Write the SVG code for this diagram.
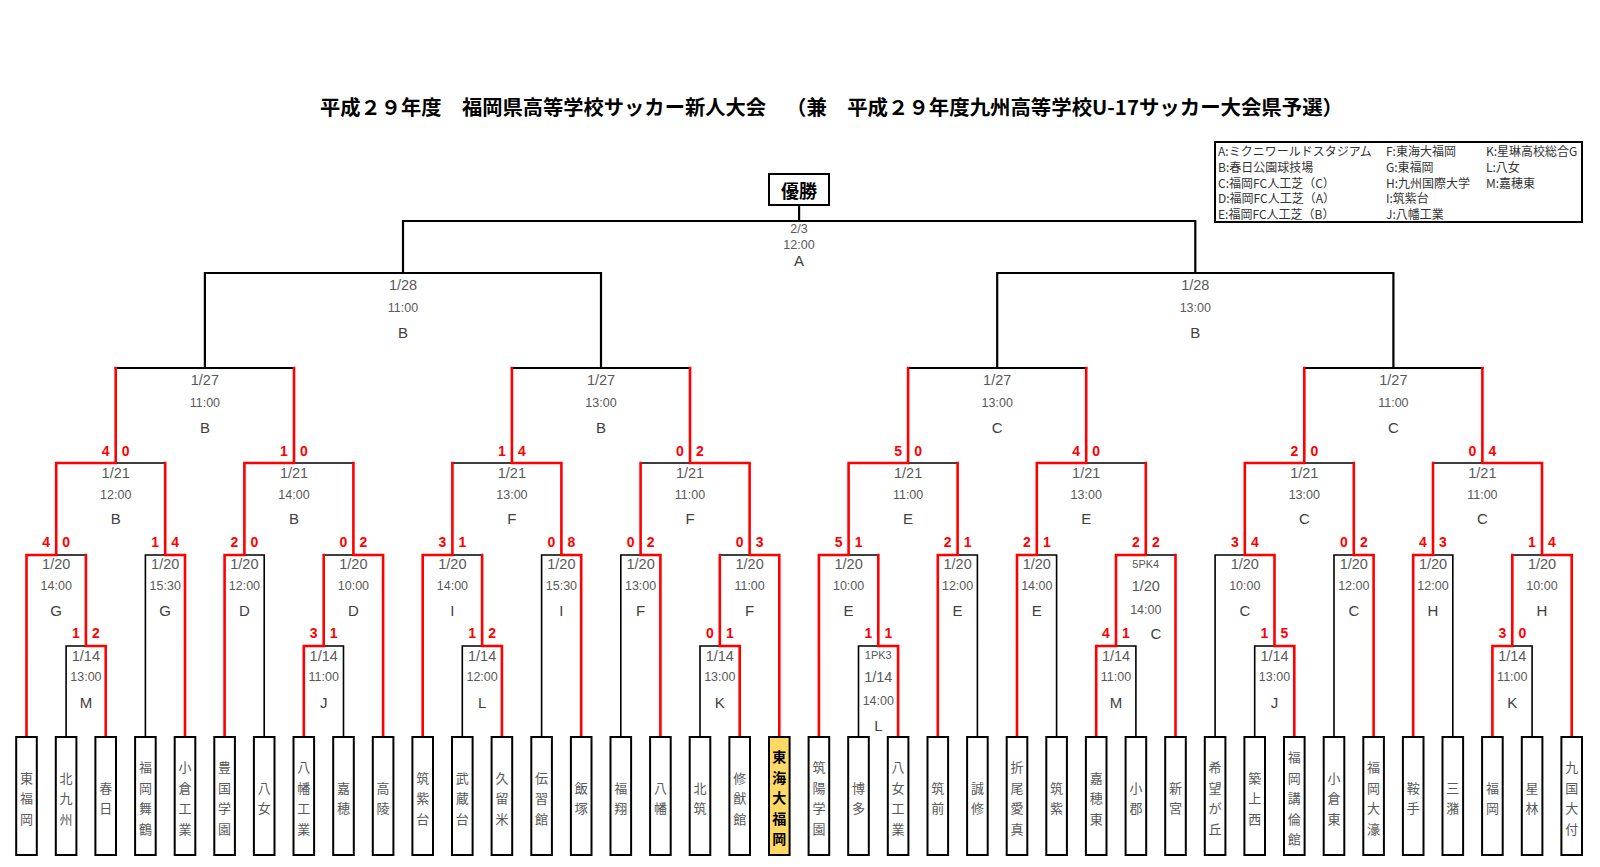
<svg xmlns="http://www.w3.org/2000/svg" width="1600" height="867" viewBox="0 0 1600 867">
<style>
.k{stroke:#000;stroke-width:1.6;fill:none;stroke-linecap:square}
.kt{stroke:#000;stroke-width:2.2;fill:none;stroke-linecap:square}
.r{stroke:#ff0000;stroke-width:2.6;fill:none;stroke-linecap:square}
.box{fill:#fff;stroke:#000;stroke-width:2}
.win{fill:#FFD966;stroke:#000;stroke-width:2}
.tn{font-family:"Noto Sans CJK JP","Noto Sans",sans-serif;font-size:13px;fill:#595959;text-anchor:middle;dominant-baseline:central}
.tw{font-family:"Noto Sans CJK JP","Noto Sans",sans-serif;font-size:14px;font-weight:bold;fill:#000;text-anchor:middle;dominant-baseline:central}
.dt{font-family:"Liberation Sans",Arial,sans-serif;font-size:14.5px;fill:#595959;text-anchor:middle;dominant-baseline:central}
.tm{font-family:"Liberation Sans",Arial,sans-serif;font-size:12.5px;fill:#595959;text-anchor:middle;dominant-baseline:central}
.vn{font-family:"Liberation Sans",Arial,sans-serif;font-size:15px;fill:#404040;text-anchor:middle;dominant-baseline:central}
.pk{font-family:"Liberation Sans",Arial,sans-serif;font-size:11px;fill:#595959;text-anchor:middle;dominant-baseline:central}
.sc{font-family:"Liberation Sans",Arial,sans-serif;font-size:14px;font-weight:bold;fill:#ff0000;text-anchor:middle;dominant-baseline:central}
.ttl{font-family:"Noto Sans CJK JP",sans-serif;font-size:20px;font-weight:bold;fill:#000;dominant-baseline:central}
.lg{font-family:"Noto Sans CJK JP",sans-serif;font-size:12px;fill:#333;dominant-baseline:central}
</style>

<g id="title">
<text class="ttl" x="320" y="106" textLength="446" lengthAdjust="spacingAndGlyphs">平成２９年度　福岡県高等学校サッカー新人大会</text>
<text class="ttl" x="786" y="106" textLength="557" lengthAdjust="spacingAndGlyphs">（兼　平成２９年度九州高等学校U-17サッカー大会県予選）</text>
</g>

<g id="legend">
<rect x="1215" y="142" width="367" height="80" fill="#fff" stroke="#000" stroke-width="2"/>
<text class="lg" x="1218" y="150">A:ミクニワールドスタジアム</text>
<text class="lg" x="1218" y="166">B:春日公園球技場</text>
<text class="lg" x="1218" y="182">C:福岡FC人工芝（C）</text>
<text class="lg" x="1218" y="197.5">D:福岡FC人工芝（A）</text>
<text class="lg" x="1218" y="213">E:福岡FC人工芝（B）</text>
<text class="lg" x="1386" y="150">F:東海大福岡</text>
<text class="lg" x="1386" y="166">G:東福岡</text>
<text class="lg" x="1386" y="182">H:九州国際大学</text>
<text class="lg" x="1386" y="197.5">I:筑紫台</text>
<text class="lg" x="1386" y="213">J:八幡工業</text>
<text class="lg" x="1486" y="150">K:星琳高校総合G</text>
<text class="lg" x="1486" y="166">L:八女</text>
<text class="lg" x="1486" y="182">M:嘉穂東</text>
</g>

<g id="connectors">
<path class="k" d="M66.1 737V646M145.4 737V555M264.2 737V555M343.5 737V646M462.3 737V646M541.6 737V555M620.8 737V555M700 737V646M858.5 737V646M977.4 737V555M1056.6 737V555M1135.9 737V646M1215.1 737V555M1254.7 737V646M1334 737V555M1452.8 737V555M1532.1 737V646
M66.1 646H85.9M323.7 646H343.5M462.3 646H482.1M700 646H719.8M858.5 646H878.3M1116 646H1135.9M1254.7 646H1274.5M1512.3 646H1532.1
M56.2 555H85.9M145.4 555H165.2M244.4 555H264.2M323.7 555H353.4M452.4 555H482.1M541.6 555H561.4M620.8 555H640.6M719.8 555H749.6M848.6 555H878.3M957.6 555H977.4M1036.8 555H1056.6M1145.8 555H1175.5M1215.1 555H1244.8M1334 555H1353.8M1433 555H1452.8M1512.3 555H1542
M115.7 463H165.2M294 463H353.4M452.4 463H511.9M640.6 463H690M908.1 463H957.6M1086.2 463H1145.8M1304.3 463H1353.8M1433 463H1482.4"/>
<path class="kt" d="M115.7 368H294M511.9 368H690M908.1 368H1086.2M1304.3 368H1482.4
M204.9 368V273M601 368V273M997.2 368V273M1393.4 368V273
M204.9 273H601M997.2 273H1393.4
M403 273V221M1195.3 273V221
M403 221H1195.3M799.1 221V205"/>
<path class="r" d="M26.5 737V555M105.7 737V646M185 737V555M224.6 737V555M303.8 737V646M383.1 737V555M422.7 737V555M501.9 737V646M581.2 737V555M660.4 737V555M739.7 737V646M779.3 737V555M818.9 737V555M898.1 737V646M937.8 737V555M1017 737V555M1096.2 737V646M1175.5 737V555M1294.3 737V646M1373.6 737V555M1413.2 737V555M1492.4 737V646M1571.7 737V555
M85.9 646H105.7M303.8 646H323.7M482.1 646H501.9M719.8 646H739.7M878.3 646H898.1M1096.2 646H1116M1274.5 646H1294.3M1492.4 646H1512.3
M85.9 646V555M323.7 646V555M482.1 646V555M719.8 646V555M878.3 646V555M1116 646V555M1274.5 646V555M1512.3 646V555
M26.5 555H56.2M165.2 555H185M224.6 555H244.4M353.4 555H383.1M422.7 555H452.4M561.4 555H581.2M640.6 555H660.4M749.6 555H779.3M818.9 555H848.6M937.8 555H957.6M1017 555H1036.8M1116 555H1145.8M1244.8 555H1274.5M1353.8 555H1373.6M1413.2 555H1433M1542 555H1571.7
M56.2 555V463M165.2 555V463M244.4 555V463M353.4 555V463M452.4 555V463M561.4 555V463M640.6 555V463M749.6 555V463M848.6 555V463M957.6 555V463M1036.8 555V463M1145.8 555V463M1244.8 555V463M1353.8 555V463M1433 555V463M1542 555V463
M56.2 463H115.7M244.4 463H294M511.9 463H561.4M690 463H749.6M848.6 463H908.1M1036.8 463H1086.2M1244.8 463H1304.3M1482.4 463H1542
M115.7 463V368M294 463V368M511.9 463V368M690 463V368M908.1 463V368M1086.2 463V368M1304.3 463V368M1482.4 463V368"/>
</g>

<g id="champion">
<rect x="769" y="174" width="60" height="31" fill="#fff" stroke="#000" stroke-width="2"/>
<text x="799" y="189.5" font-family="Noto Sans CJK JP, sans-serif" font-size="18" font-weight="bold" text-anchor="middle" dominant-baseline="central">優勝</text>
</g>

<g id="final"><text class="tm" x="799" y="229">2/3</text><text class="tm" x="799" y="244.5">12:00</text><text class="vn" x="799" y="260">A</text></g>

<g id="sf-left"><text class="dt" x="403" y="285">1/28</text><text class="tm" x="403" y="308">11:00</text><text class="vn" x="403" y="332">B</text></g>
<g id="sf-right"><text class="dt" x="1195.3" y="285">1/28</text><text class="tm" x="1195.3" y="308">13:00</text><text class="vn" x="1195.3" y="332">B</text></g>

<g id="qf1"><text class="dt" x="204.9" y="380">1/27</text><text class="tm" x="204.9" y="403">11:00</text><text class="vn" x="204.9" y="427">B</text></g>
<g id="qf2"><text class="dt" x="601" y="380">1/27</text><text class="tm" x="601" y="403">13:00</text><text class="vn" x="601" y="427">B</text></g>
<g id="qf3"><text class="dt" x="997.2" y="380">1/27</text><text class="tm" x="997.2" y="403">13:00</text><text class="vn" x="997.2" y="427">C</text></g>
<g id="qf4"><text class="dt" x="1393.4" y="380">1/27</text><text class="tm" x="1393.4" y="403">11:00</text><text class="vn" x="1393.4" y="427">C</text></g>

<g id="r21-1"><text class="sc" x="105.7" y="450.7">4</text><text class="sc" x="125.7" y="450.7">0</text><text class="dt" x="115.7" y="473">1/21</text><text class="tm" x="115.7" y="495">12:00</text><text class="vn" x="115.7" y="518">B</text></g>
<g id="r21-2"><text class="sc" x="284" y="450.7">1</text><text class="sc" x="304" y="450.7">0</text><text class="dt" x="294" y="473">1/21</text><text class="tm" x="294" y="495">14:00</text><text class="vn" x="294" y="518">B</text></g>
<g id="r21-3"><text class="sc" x="501.9" y="450.7">1</text><text class="sc" x="521.9" y="450.7">4</text><text class="dt" x="511.9" y="473">1/21</text><text class="tm" x="511.9" y="495">13:00</text><text class="vn" x="511.9" y="518">F</text></g>
<g id="r21-4"><text class="sc" x="680" y="450.7">0</text><text class="sc" x="700" y="450.7">2</text><text class="dt" x="690" y="473">1/21</text><text class="tm" x="690" y="495">11:00</text><text class="vn" x="690" y="518">F</text></g>
<g id="r21-5"><text class="sc" x="898.1" y="450.7">5</text><text class="sc" x="918.1" y="450.7">0</text><text class="dt" x="908.1" y="473">1/21</text><text class="tm" x="908.1" y="495">11:00</text><text class="vn" x="908.1" y="518">E</text></g>
<g id="r21-6"><text class="sc" x="1076.2" y="450.7">4</text><text class="sc" x="1096.2" y="450.7">0</text><text class="dt" x="1086.2" y="473">1/21</text><text class="tm" x="1086.2" y="495">13:00</text><text class="vn" x="1086.2" y="518">E</text></g>
<g id="r21-7"><text class="sc" x="1294.3" y="450.7">2</text><text class="sc" x="1314.3" y="450.7">0</text><text class="dt" x="1304.3" y="473">1/21</text><text class="tm" x="1304.3" y="495">13:00</text><text class="vn" x="1304.3" y="518">C</text></g>
<g id="r21-8"><text class="sc" x="1472.4" y="450.7">0</text><text class="sc" x="1492.4" y="450.7">4</text><text class="dt" x="1482.4" y="473">1/21</text><text class="tm" x="1482.4" y="495">11:00</text><text class="vn" x="1482.4" y="518">C</text></g>

<g id="r20-1"><text class="sc" x="46.2" y="541.7">4</text><text class="sc" x="66.2" y="541.7">0</text><text class="dt" x="56.2" y="564">1/20</text><text class="tm" x="56.2" y="586">14:00</text><text class="vn" x="56.2" y="610">G</text></g>
<g id="r20-2"><text class="sc" x="155.2" y="541.7">1</text><text class="sc" x="175.2" y="541.7">4</text><text class="dt" x="165.2" y="564">1/20</text><text class="tm" x="165.2" y="586">15:30</text><text class="vn" x="165.2" y="610">G</text></g>
<g id="r20-3"><text class="sc" x="234.4" y="541.7">2</text><text class="sc" x="254.4" y="541.7">0</text><text class="dt" x="244.4" y="564">1/20</text><text class="tm" x="244.4" y="586">12:00</text><text class="vn" x="244.4" y="610">D</text></g>
<g id="r20-4"><text class="sc" x="343.4" y="541.7">0</text><text class="sc" x="363.4" y="541.7">2</text><text class="dt" x="353.4" y="564">1/20</text><text class="tm" x="353.4" y="586">10:00</text><text class="vn" x="353.4" y="610">D</text></g>
<g id="r20-5"><text class="sc" x="442.4" y="541.7">3</text><text class="sc" x="462.4" y="541.7">1</text><text class="dt" x="452.4" y="564">1/20</text><text class="tm" x="452.4" y="586">14:00</text><text class="vn" x="452.4" y="610">I</text></g>
<g id="r20-6"><text class="sc" x="551.4" y="541.7">0</text><text class="sc" x="571.4" y="541.7">8</text><text class="dt" x="561.4" y="564">1/20</text><text class="tm" x="561.4" y="586">15:30</text><text class="vn" x="561.4" y="610">I</text></g>
<g id="r20-7"><text class="sc" x="630.6" y="541.7">0</text><text class="sc" x="650.6" y="541.7">2</text><text class="dt" x="640.6" y="564">1/20</text><text class="tm" x="640.6" y="586">13:00</text><text class="vn" x="640.6" y="610">F</text></g>
<g id="r20-8"><text class="sc" x="739.6" y="541.7">0</text><text class="sc" x="759.6" y="541.7">3</text><text class="dt" x="749.6" y="564">1/20</text><text class="tm" x="749.6" y="586">11:00</text><text class="vn" x="749.6" y="610">F</text></g>
<g id="r20-9"><text class="sc" x="838.6" y="541.7">5</text><text class="sc" x="858.6" y="541.7">1</text><text class="dt" x="848.6" y="564">1/20</text><text class="tm" x="848.6" y="586">10:00</text><text class="vn" x="848.6" y="610">E</text></g>
<g id="r20-10"><text class="sc" x="947.6" y="541.7">2</text><text class="sc" x="967.6" y="541.7">1</text><text class="dt" x="957.6" y="564">1/20</text><text class="tm" x="957.6" y="586">12:00</text><text class="vn" x="957.6" y="610">E</text></g>
<g id="r20-11"><text class="sc" x="1026.8" y="541.7">2</text><text class="sc" x="1046.8" y="541.7">1</text><text class="dt" x="1036.8" y="564">1/20</text><text class="tm" x="1036.8" y="586">14:00</text><text class="vn" x="1036.8" y="610">E</text></g>
<g id="r20-12"><text class="sc" x="1135.8" y="541.7">2</text><text class="sc" x="1155.8" y="541.7">2</text><text class="pk" x="1145.8" y="564">5PK4</text><text class="dt" x="1145.8" y="586">1/20</text><text class="tm" x="1145.8" y="610">14:00</text><text class="vn" x="1156" y="633">C</text></g>
<g id="r20-13"><text class="sc" x="1234.8" y="541.7">3</text><text class="sc" x="1254.8" y="541.7">4</text><text class="dt" x="1244.8" y="564">1/20</text><text class="tm" x="1244.8" y="586">10:00</text><text class="vn" x="1244.8" y="610">C</text></g>
<g id="r20-14"><text class="sc" x="1343.8" y="541.7">0</text><text class="sc" x="1363.8" y="541.7">2</text><text class="dt" x="1353.8" y="564">1/20</text><text class="tm" x="1353.8" y="586">12:00</text><text class="vn" x="1353.8" y="610">C</text></g>
<g id="r20-15"><text class="sc" x="1423" y="541.7">4</text><text class="sc" x="1443" y="541.7">3</text><text class="dt" x="1433" y="564">1/20</text><text class="tm" x="1433" y="586">12:00</text><text class="vn" x="1433" y="610">H</text></g>
<g id="r20-16"><text class="sc" x="1532" y="541.7">1</text><text class="sc" x="1552" y="541.7">4</text><text class="dt" x="1542" y="564">1/20</text><text class="tm" x="1542" y="586">10:00</text><text class="vn" x="1542" y="610">H</text></g>

<g id="r14-1"><text class="sc" x="75.9" y="633">1</text><text class="sc" x="95.9" y="633">2</text><text class="dt" x="85.9" y="656">1/14</text><text class="tm" x="85.9" y="677">13:00</text><text class="vn" x="85.9" y="702">M</text></g>
<g id="r14-2"><text class="sc" x="313.7" y="633">3</text><text class="sc" x="333.7" y="633">1</text><text class="dt" x="323.7" y="656">1/14</text><text class="tm" x="323.7" y="677">11:00</text><text class="vn" x="323.7" y="702">J</text></g>
<g id="r14-3"><text class="sc" x="472.1" y="633">1</text><text class="sc" x="492.1" y="633">2</text><text class="dt" x="482.1" y="656">1/14</text><text class="tm" x="482.1" y="677">12:00</text><text class="vn" x="482.1" y="702">L</text></g>
<g id="r14-4"><text class="sc" x="709.8" y="633">0</text><text class="sc" x="729.8" y="633">1</text><text class="dt" x="719.8" y="656">1/14</text><text class="tm" x="719.8" y="677">13:00</text><text class="vn" x="719.8" y="702">K</text></g>
<g id="r14-5"><text class="sc" x="868.3" y="633">1</text><text class="sc" x="888.3" y="633">1</text><text class="pk" x="878.3" y="655">1PK3</text><text class="dt" x="878.3" y="677">1/14</text><text class="tm" x="878.3" y="700.5">14:00</text><text class="vn" x="878.3" y="725">L</text></g>
<g id="r14-6"><text class="sc" x="1106" y="633">4</text><text class="sc" x="1126" y="633">1</text><text class="dt" x="1116" y="656">1/14</text><text class="tm" x="1116" y="677">11:00</text><text class="vn" x="1116" y="702">M</text></g>
<g id="r14-7"><text class="sc" x="1264.5" y="633">1</text><text class="sc" x="1284.5" y="633">5</text><text class="dt" x="1274.5" y="656">1/14</text><text class="tm" x="1274.5" y="677">13:00</text><text class="vn" x="1274.5" y="702">J</text></g>
<g id="r14-8"><text class="sc" x="1502.3" y="633">3</text><text class="sc" x="1522.3" y="633">0</text><text class="dt" x="1512.3" y="656">1/14</text><text class="tm" x="1512.3" y="677">11:00</text><text class="vn" x="1512.3" y="702">K</text></g>

<g id="t00"><rect class="box" x="16.2" y="737" width="20.6" height="118"/><text class="tn"><tspan x="26.5" y="776.5">東</tspan><tspan x="26.5" y="797">福</tspan><tspan x="26.5" y="817.5">岡</tspan></text></g>
<g id="t01"><rect class="box" x="55.8" y="737" width="20.6" height="118"/><text class="tn"><tspan x="66.1" y="776.5">北</tspan><tspan x="66.1" y="797">九</tspan><tspan x="66.1" y="817.5">州</tspan></text></g>
<g id="t02"><rect class="box" x="95.4" y="737" width="20.6" height="118"/><text class="tn"><tspan x="105.7" y="786.75">春</tspan><tspan x="105.7" y="807.25">日</tspan></text></g>
<g id="t03"><rect class="box" x="135.1" y="737" width="20.6" height="118"/><text class="tn"><tspan x="145.4" y="766.25">福</tspan><tspan x="145.4" y="786.75">岡</tspan><tspan x="145.4" y="807.25">舞</tspan><tspan x="145.4" y="827.75">鶴</tspan></text></g>
<g id="t04"><rect class="box" x="174.7" y="737" width="20.6" height="118"/><text class="tn"><tspan x="185" y="766.25">小</tspan><tspan x="185" y="786.75">倉</tspan><tspan x="185" y="807.25">工</tspan><tspan x="185" y="827.75">業</tspan></text></g>
<g id="t05"><rect class="box" x="214.3" y="737" width="20.6" height="118"/><text class="tn"><tspan x="224.6" y="766.25">豊</tspan><tspan x="224.6" y="786.75">国</tspan><tspan x="224.6" y="807.25">学</tspan><tspan x="224.6" y="827.75">園</tspan></text></g>
<g id="t06"><rect class="box" x="253.9" y="737" width="20.6" height="118"/><text class="tn"><tspan x="264.2" y="786.75">八</tspan><tspan x="264.2" y="807.25">女</tspan></text></g>
<g id="t07"><rect class="box" x="293.5" y="737" width="20.6" height="118"/><text class="tn"><tspan x="303.8" y="766.25">八</tspan><tspan x="303.8" y="786.75">幡</tspan><tspan x="303.8" y="807.25">工</tspan><tspan x="303.8" y="827.75">業</tspan></text></g>
<g id="t08"><rect class="box" x="333.2" y="737" width="20.6" height="118"/><text class="tn"><tspan x="343.5" y="786.75">嘉</tspan><tspan x="343.5" y="807.25">穂</tspan></text></g>
<g id="t09"><rect class="box" x="372.8" y="737" width="20.6" height="118"/><text class="tn"><tspan x="383.1" y="786.75">高</tspan><tspan x="383.1" y="807.25">陵</tspan></text></g>
<g id="t10"><rect class="box" x="412.4" y="737" width="20.6" height="118"/><text class="tn"><tspan x="422.7" y="776.5">筑</tspan><tspan x="422.7" y="797">紫</tspan><tspan x="422.7" y="817.5">台</tspan></text></g>
<g id="t11"><rect class="box" x="452" y="737" width="20.6" height="118"/><text class="tn"><tspan x="462.3" y="776.5">武</tspan><tspan x="462.3" y="797">蔵</tspan><tspan x="462.3" y="817.5">台</tspan></text></g>
<g id="t12"><rect class="box" x="491.6" y="737" width="20.6" height="118"/><text class="tn"><tspan x="501.9" y="776.5">久</tspan><tspan x="501.9" y="797">留</tspan><tspan x="501.9" y="817.5">米</tspan></text></g>
<g id="t13"><rect class="box" x="531.3" y="737" width="20.6" height="118"/><text class="tn"><tspan x="541.6" y="776.5">伝</tspan><tspan x="541.6" y="797">習</tspan><tspan x="541.6" y="817.5">館</tspan></text></g>
<g id="t14"><rect class="box" x="570.9" y="737" width="20.6" height="118"/><text class="tn"><tspan x="581.2" y="786.75">飯</tspan><tspan x="581.2" y="807.25">塚</tspan></text></g>
<g id="t15"><rect class="box" x="610.5" y="737" width="20.6" height="118"/><text class="tn"><tspan x="620.8" y="786.75">福</tspan><tspan x="620.8" y="807.25">翔</tspan></text></g>
<g id="t16"><rect class="box" x="650.1" y="737" width="20.6" height="118"/><text class="tn"><tspan x="660.4" y="786.75">八</tspan><tspan x="660.4" y="807.25">幡</tspan></text></g>
<g id="t17"><rect class="box" x="689.7" y="737" width="20.6" height="118"/><text class="tn"><tspan x="700" y="786.75">北</tspan><tspan x="700" y="807.25">筑</tspan></text></g>
<g id="t18"><rect class="box" x="729.4" y="737" width="20.6" height="118"/><text class="tn"><tspan x="739.7" y="776.5">修</tspan><tspan x="739.7" y="797">猷</tspan><tspan x="739.7" y="817.5">館</tspan></text></g>
<g id="t19"><rect class="win" x="769" y="737" width="20.6" height="118"/><text class="tw"><tspan x="779.3" y="756">東</tspan><tspan x="779.3" y="776.5">海</tspan><tspan x="779.3" y="797">大</tspan><tspan x="779.3" y="817.5">福</tspan><tspan x="779.3" y="838">岡</tspan></text></g>
<g id="t20"><rect class="box" x="808.6" y="737" width="20.6" height="118"/><text class="tn"><tspan x="818.9" y="766.25">筑</tspan><tspan x="818.9" y="786.75">陽</tspan><tspan x="818.9" y="807.25">学</tspan><tspan x="818.9" y="827.75">園</tspan></text></g>
<g id="t21"><rect class="box" x="848.2" y="737" width="20.6" height="118"/><text class="tn"><tspan x="858.5" y="786.75">博</tspan><tspan x="858.5" y="807.25">多</tspan></text></g>
<g id="t22"><rect class="box" x="887.8" y="737" width="20.6" height="118"/><text class="tn"><tspan x="898.1" y="766.25">八</tspan><tspan x="898.1" y="786.75">女</tspan><tspan x="898.1" y="807.25">工</tspan><tspan x="898.1" y="827.75">業</tspan></text></g>
<g id="t23"><rect class="box" x="927.5" y="737" width="20.6" height="118"/><text class="tn"><tspan x="937.8" y="786.75">筑</tspan><tspan x="937.8" y="807.25">前</tspan></text></g>
<g id="t24"><rect class="box" x="967.1" y="737" width="20.6" height="118"/><text class="tn"><tspan x="977.4" y="786.75">誠</tspan><tspan x="977.4" y="807.25">修</tspan></text></g>
<g id="t25"><rect class="box" x="1006.7" y="737" width="20.6" height="118"/><text class="tn"><tspan x="1017" y="766.25">折</tspan><tspan x="1017" y="786.75">尾</tspan><tspan x="1017" y="807.25">愛</tspan><tspan x="1017" y="827.75">真</tspan></text></g>
<g id="t26"><rect class="box" x="1046.3" y="737" width="20.6" height="118"/><text class="tn"><tspan x="1056.6" y="786.75">筑</tspan><tspan x="1056.6" y="807.25">紫</tspan></text></g>
<g id="t27"><rect class="box" x="1085.9" y="737" width="20.6" height="118"/><text class="tn"><tspan x="1096.2" y="776.5">嘉</tspan><tspan x="1096.2" y="797">穂</tspan><tspan x="1096.2" y="817.5">東</tspan></text></g>
<g id="t28"><rect class="box" x="1125.6" y="737" width="20.6" height="118"/><text class="tn"><tspan x="1135.9" y="786.75">小</tspan><tspan x="1135.9" y="807.25">郡</tspan></text></g>
<g id="t29"><rect class="box" x="1165.2" y="737" width="20.6" height="118"/><text class="tn"><tspan x="1175.5" y="786.75">新</tspan><tspan x="1175.5" y="807.25">宮</tspan></text></g>
<g id="t30"><rect class="box" x="1204.8" y="737" width="20.6" height="118"/><text class="tn"><tspan x="1215.1" y="766.25">希</tspan><tspan x="1215.1" y="786.75">望</tspan><tspan x="1215.1" y="807.25">が</tspan><tspan x="1215.1" y="827.75">丘</tspan></text></g>
<g id="t31"><rect class="box" x="1244.4" y="737" width="20.6" height="118"/><text class="tn"><tspan x="1254.7" y="776.5">築</tspan><tspan x="1254.7" y="797">上</tspan><tspan x="1254.7" y="817.5">西</tspan></text></g>
<g id="t32"><rect class="box" x="1284" y="737" width="20.6" height="118"/><text class="tn"><tspan x="1294.3" y="756">福</tspan><tspan x="1294.3" y="776.5">岡</tspan><tspan x="1294.3" y="797">講</tspan><tspan x="1294.3" y="817.5">倫</tspan><tspan x="1294.3" y="838">館</tspan></text></g>
<g id="t33"><rect class="box" x="1323.7" y="737" width="20.6" height="118"/><text class="tn"><tspan x="1334" y="776.5">小</tspan><tspan x="1334" y="797">倉</tspan><tspan x="1334" y="817.5">東</tspan></text></g>
<g id="t34"><rect class="box" x="1363.3" y="737" width="20.6" height="118"/><text class="tn"><tspan x="1373.6" y="766.25">福</tspan><tspan x="1373.6" y="786.75">岡</tspan><tspan x="1373.6" y="807.25">大</tspan><tspan x="1373.6" y="827.75">濠</tspan></text></g>
<g id="t35"><rect class="box" x="1402.9" y="737" width="20.6" height="118"/><text class="tn"><tspan x="1413.2" y="786.75">鞍</tspan><tspan x="1413.2" y="807.25">手</tspan></text></g>
<g id="t36"><rect class="box" x="1442.5" y="737" width="20.6" height="118"/><text class="tn"><tspan x="1452.8" y="786.75">三</tspan><tspan x="1452.8" y="807.25">潴</tspan></text></g>
<g id="t37"><rect class="box" x="1482.1" y="737" width="20.6" height="118"/><text class="tn"><tspan x="1492.4" y="786.75">福</tspan><tspan x="1492.4" y="807.25">岡</tspan></text></g>
<g id="t38"><rect class="box" x="1521.8" y="737" width="20.6" height="118"/><text class="tn"><tspan x="1532.1" y="786.75">星</tspan><tspan x="1532.1" y="807.25">林</tspan></text></g>
<g id="t39"><rect class="box" x="1561.4" y="737" width="20.6" height="118"/><text class="tn"><tspan x="1571.7" y="766.25">九</tspan><tspan x="1571.7" y="786.75">国</tspan><tspan x="1571.7" y="807.25">大</tspan><tspan x="1571.7" y="827.75">付</tspan></text></g>
</svg>
